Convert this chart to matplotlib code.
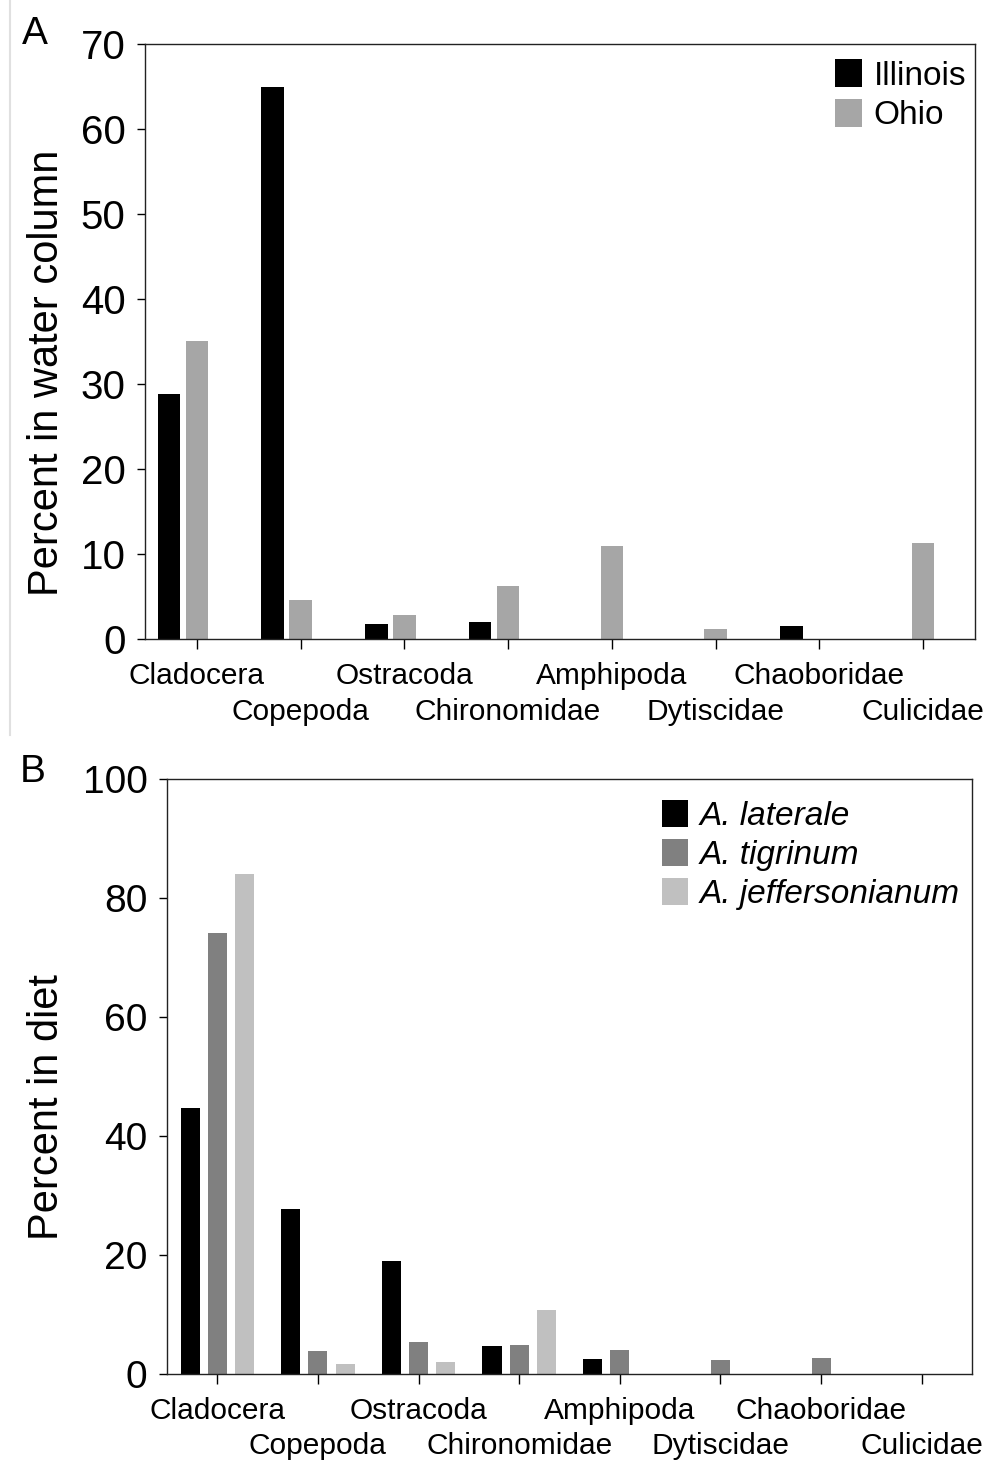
import matplotlib
matplotlib.use("Agg")
import matplotlib.pyplot as plt
from matplotlib.lines import Line2D
import numpy as np

plt.rcParams['font.family'] = ['Liberation Sans', 'DejaVu Sans']

categories = ["Cladocera", "Copepoda", "Ostracoda", "Chironomidae",
              "Amphipoda", "Dytiscidae", "Chaoboridae", "Culicidae"]

# Panel A: percent in water column
illinois = [28.8, 65.0, 1.8, 2.0, 0.0, 0.0, 1.6, 0.0]
ohio = [35.1, 4.6, 2.9, 6.3, 11.0, 1.2, 0.0, 11.3]

# Panel B: percent in diet
laterale = [44.6, 27.7, 19.0, 4.65, 2.5, 0.0, 0.0, 0.0]
tigrinum = [74.1, 3.8, 5.3, 4.8, 4.0, 2.35, 2.6, 0.0]
jeffersonianum = [83.9, 1.7, 1.9, 10.7, 0.0, 0.0, 0.0, 0.0]

W, H = 990, 1461
fig = plt.figure(figsize=(W / 100, H / 100), dpi=100)


def ax_rect(l, t, r, b):
    return [l / W, 1 - b / H, (r - l) / W, (b - t) / H]


axA = fig.add_axes(ax_rect(145, 44.3, 975, 639.3))
axB = fig.add_axes(ax_rect(167, 778.7, 972, 1373.7))

x = np.arange(len(categories))

# Panel A bars
axA.bar(x - 0.27, illinois, width=0.217, color="black", label="Illinois")
axA.bar(x, ohio, width=0.217, color="#a6a6a6", label="Ohio")

# Panel B bars
axB.bar(x - 0.27, laterale, width=0.19, color="black", label="A. laterale")
axB.bar(x, tigrinum, width=0.19, color="#808080", label="A. tigrinum")
axB.bar(x + 0.27, jeffersonianum, width=0.19, color="#c0c0c0", label="A. jeffersonianum")

upper_labels = [c if i % 2 == 0 else "" for i, c in enumerate(categories)]
lower_idx = x[1::2]
lower_labels = categories[1::2]

for ax, ymax, ystep, yfs in [(axA, 70, 10, 29), (axB, 100, 20, 28)]:
    ax.set_xlim(-0.5, len(categories) - 0.5)
    ax.set_ylim(0, ymax)
    ax.set_yticks(np.arange(0, ymax + 1, ystep))
    ax.xaxis.remove_overlapping_locs = False
    ax.set_xticks(x)
    ax.set_xticklabels(upper_labels, fontsize=21.5)
    ax.set_xticks(lower_idx, minor=True)
    ax.set_xticklabels(lower_labels, minor=True, fontsize=21.5)
    ax.tick_params(axis='y', labelsize=yfs, length=6, width=1.0, pad=8, direction='out')
    ax.tick_params(axis='x', which='major', length=7, width=1.0, pad=9.5, direction='out')
    ax.tick_params(axis='x', which='minor', length=0, pad=9.5 + 7 + 25.5, direction='out')
    for s in ax.spines.values():
        s.set_linewidth(1.0)
        s.set_color("#222222")

legA = axA.legend(loc="upper right", bbox_to_anchor=(0.9895, 0.975), frameon=False,
                  fontsize=24, handlelength=0.8, handleheight=0.9,
                  handletextpad=0.35, labelspacing=0.22, borderpad=0, borderaxespad=0)
legB = axB.legend(loc="upper right", bbox_to_anchor=(0.985, 0.965), frameon=False,
                  handlelength=0.8, handleheight=0.9,
                  handletextpad=0.35, labelspacing=0.2, borderpad=0, borderaxespad=0,
                  prop={'style': 'italic', 'size': 24})

fig.text(47 / W, 1 - 373 / H, "Percent in water column", rotation=90,
         ha="center", va="center", fontsize=30)
fig.text(47 / W, 1 - 1107 / H, "Percent in diet", rotation=90,
         ha="center", va="center", fontsize=30)

fig.text(35 / W, 1 - 34 / H, "A", ha="center", va="center", fontsize=28)
fig.text(33 / W, 1 - 772 / H, "B", ha="center", va="center", fontsize=28)

# thin light border line at left of upper panel
fig.add_artist(Line2D([10 / W, 10 / W], [1.0, 1 - 735 / H], color="#e0e0e0", lw=1.5,
                      transform=fig.transFigure))

fig.savefig("out.png", dpi=100)
